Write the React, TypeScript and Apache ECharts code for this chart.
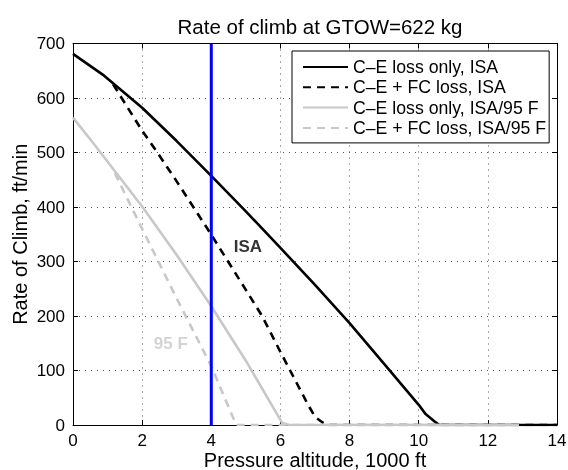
import React, { useEffect, useRef } from 'react';
import * as echarts from 'echarts';

const chartTitle = 'Rate of climb at GTOW=622 kg';
const xAxisTitle = 'Pressure altitude, 1000 ft';
const yAxisTitle = 'Rate of Climb, ft/min';
const seriesNames = [
  'C\u2013E loss only, ISA',
  'C\u2013E + FC loss, ISA',
  'C\u2013E loss only, ISA/95 F',
  'C\u2013E + FC loss, ISA/95 F',
];

const isaOnlyAlt = [0, 0.9, 2, 3, 4, 5, 6, 7, 8, 9, 10, 10.2, 10.45, 10.6, 14];
const isaOnlyRoc = [681, 641, 582, 521, 457, 392, 325, 257, 187, 112, 37, 20, 7, 0, 0];

const isaFcAlt = [1.16, 2, 2.46, 3, 3.88, 4, 5, 5.47, 6, 6.28, 6.8, 7.0, 7.23, 7.4, 14];
const isaFcRoc = [625, 540, 498, 447, 361, 349, 248, 200, 134, 100, 37, 15, 4, 0, 0];

const hotOnlyAlt = [0, 0.6, 2, 3, 4, 5, 6.05, 6.25, 12.9];
const hotOnlyRoc = [564, 516, 401, 312, 218, 118, 4, 0, 0];

const hotFcAlt = [1.21, 2, 3, 4, 4.72, 12.9];
const hotFcRoc = [462, 360, 232, 108, 0, 0];

const refAltitude = 4;
const refRocRange = [0, 700];

const annotations = [
  { text: 'ISA', x: 5.06, y: 328, color: '#000000' },
  { text: '95 F', x: 2.83, y: 150, color: '#c8c8c8' },
];

const zip = (xs: number[], ys: number[]) => xs.map((x, i) => [x, ys[i]]);

const FONT = '"Liberation Sans", Arial, Helvetica, sans-serif';

export default function App() {
  const ref = useRef<HTMLDivElement>(null);
  useEffect(() => {
    if (!ref.current) return;
    const chart = echarts.init(ref.current, undefined, { renderer: 'svg' });
    const gridLine = { show: true, lineStyle: { color: '#555', width: 1, type: [1, 5] as any } };
    const baseX = {
      type: 'value' as const,
      min: 0,
      max: 14,
      interval: 2,
    };
    const baseY = {
      type: 'value' as const,
      min: 0,
      max: 700,
      interval: 100,
    };
    const lineOf = (name: string, data: number[][], color: string, dashed: boolean) => ({
      name,
      type: 'line' as const,
      data,
      symbol: 'none',
      showSymbol: false,
      lineStyle: { color, width: 2.6, type: dashed ? ([8, 6] as any) : 'solid' },
      itemStyle: { color },
      emphasis: { disabled: true },
    });
    chart.setOption({
      animation: false,
      textStyle: { fontFamily: FONT },
      title: {
        text: chartTitle,
        left: 315,
        top: 11,
        textAlign: 'center',
        textStyle: { fontFamily: FONT, fontSize: 20.5, fontWeight: 'normal', color: '#000' },
      },
      grid: { left: 73, right: 11, top: 43.5, bottom: 45, containLabel: false, outerBoundsMode: 'none' },
      legend: {
        data: seriesNames,
        orient: 'vertical',
        left: 292,
        top: 51,
        padding: [6, 3, 5, 10],
        itemWidth: 45,
        itemHeight: 14,
        itemGap: 0.3,
        backgroundColor: '#fff',
        borderColor: '#000',
        borderWidth: 1,
        borderRadius: 0,
        itemStyle: { color: 'rgba(0,0,0,0)', borderColor: 'rgba(0,0,0,0)', borderWidth: 0, opacity: 0 },
        textStyle: { fontFamily: FONT, fontSize: 17.7, color: '#000', lineHeight: 20 },
        selectedMode: false,
      },
      xAxis: [
        {
          ...baseX,
          position: 'bottom',
          name: xAxisTitle,
          nameLocation: 'middle',
          nameGap: 25,
          nameMoveOverlap: false,
          nameTextStyle: { fontFamily: FONT, fontSize: 20, color: '#000' },
          axisLine: { show: true, onZero: false, lineStyle: { color: '#000', width: 1 } },
          axisTick: { show: true, inside: true, length: 5, lineStyle: { color: '#000' } },
          axisLabel: { show: true, margin: 7, fontFamily: FONT, fontSize: 17, color: '#000' },
          splitLine: gridLine,
        },
        {
          ...baseX,
          position: 'top',
          axisLine: { show: true, onZero: false, lineStyle: { color: '#000', width: 1 } },
          axisTick: { show: true, inside: true, length: 5, lineStyle: { color: '#000' } },
          axisLabel: { show: false },
          splitLine: { show: false },
        },
      ],
      yAxis: [
        {
          ...baseY,
          position: 'left',
          name: yAxisTitle,
          nameLocation: 'middle',
          nameRotate: 90,
          nameGap: 43,
          nameMoveOverlap: false,
          nameTextStyle: { fontFamily: FONT, fontSize: 20, color: '#000' },
          axisLine: { show: true, onZero: false, lineStyle: { color: '#000', width: 1 } },
          axisTick: { show: true, inside: true, length: 5, lineStyle: { color: '#000' } },
          axisLabel: { show: true, margin: 8, fontFamily: FONT, fontSize: 17, color: '#000' },
          splitLine: gridLine,
        },
        {
          ...baseY,
          position: 'right',
          axisLine: { show: true, onZero: false, lineStyle: { color: '#000', width: 1 } },
          axisTick: { show: true, inside: true, length: 5, lineStyle: { color: '#000' } },
          axisLabel: { show: false },
          splitLine: { show: false },
        },
      ],
      series: [
        lineOf(seriesNames[0], zip(isaOnlyAlt, isaOnlyRoc), '#000000', false),
        lineOf(seriesNames[1], zip(isaFcAlt, isaFcRoc), '#000000', true),
        lineOf(seriesNames[2], zip(hotOnlyAlt, hotOnlyRoc), '#c8c8c8', false),
        lineOf(seriesNames[3], zip(hotFcAlt, hotFcRoc), '#c8c8c8', true),
        {
          name: 'reference',
          type: 'line',
          data: refRocRange.map((r) => [refAltitude, r]),
          symbol: 'none',
          lineStyle: { color: '#0000ff', width: 3 },
          itemStyle: { color: '#0000ff' },
          emphasis: { disabled: true },
          z: 5,
        },
        ...annotations.map((a) => ({
          name: a.text,
          type: 'scatter',
          data: [[a.x, a.y]],
          symbolSize: 1,
          itemStyle: { color: 'rgba(0,0,0,0)' },
          label: {
            show: true,
            position: 'inside',
            formatter: a.text,
            fontFamily: FONT,
            fontSize: 17,
            fontWeight: 'bold',
            color: a.color,
          },
          emphasis: { disabled: true },
          z: 6,
        })),
      ],
    });
    return () => chart.dispose();
  }, []);
  return <div ref={ref} style={{ position: 'fixed', left: 0, top: 0, width: 568, height: 470 }} />;
}
